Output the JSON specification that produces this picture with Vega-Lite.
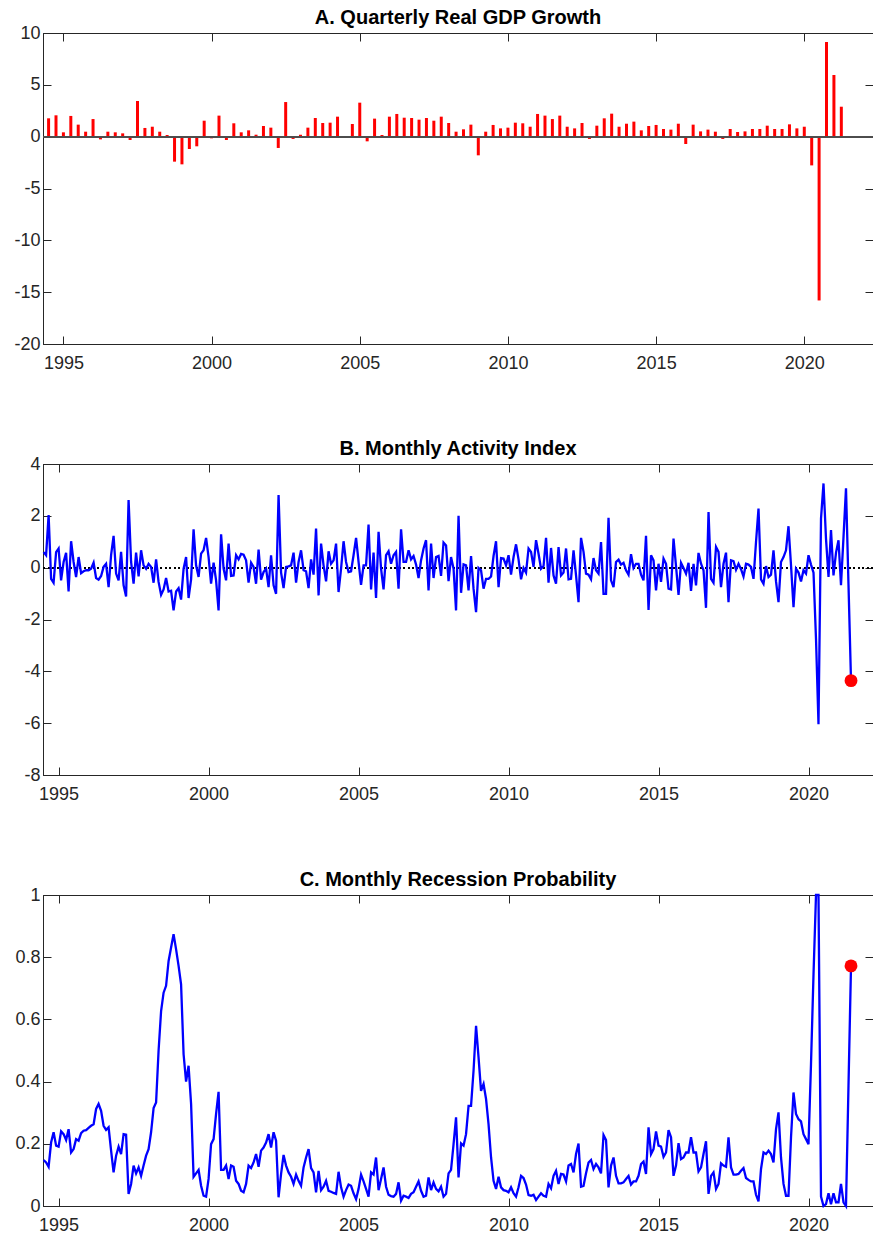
{
"$schema": "https://vega.github.io/schema/vega-lite/v6.json",
"padding": {"left": 5, "top": 7, "right": 1, "bottom": 4},
"spacing": 120,
"bounds": "flush",
"background": "white",
"config": {
  "view": {"stroke": "#262626", "strokeWidth": 1},
  "axis": {"grid": false, "domainColor": "#262626", "domainWidth": 1, "tickColor": "#262626", "tickWidth": 1, "tickSize": -8, "labelFont": "Liberation Sans", "labelFontSize": 18, "labelColor": "#262626", "title": null, "labelOverlap": false, "labelFlush": false},
  "axisX": {"labelPadding": 18},
  "axisY": {"labelPadding": 11, "minExtent": 37, "maxExtent": 37},
  "title": {"font": "Liberation Sans", "fontSize": 20, "fontWeight": "bold", "color": "#000000", "offset": -4, "baseline": "alphabetic", "frame": "group", "anchor": "middle"}
},
"datasets": {
"gdp": [
{"t":1994.5,"v":1.77},{"t":1994.75,"v":2.06},{"t":1995,"v":0.42},{"t":1995.25,"v":2.0},{"t":1995.5,"v":1.16},{"t":1995.75,"v":0.48},{"t":1996,"v":1.7},{"t":1996.25,"v":-0.26},{"t":1996.5,"v":0.48},{"t":1996.75,"v":0.42},{"t":1997,"v":0.32},{"t":1997.25,"v":-0.32},{"t":1997.5,"v":3.44},{"t":1997.75,"v":0.84},{"t":1998,"v":0.96},{"t":1998.25,"v":0.48},{"t":1998.5,"v":0.16},{"t":1998.75,"v":-2.41},{"t":1999,"v":-2.67},{"t":1999.25,"v":-1.19},{"t":1999.5,"v":-0.93},{"t":1999.75,"v":1.54},{"t":2000,"v":-0.16},{"t":2000.25,"v":2.03},{"t":2000.5,"v":-0.32},{"t":2000.75,"v":1.29},{"t":2001,"v":0.42},{"t":2001.25,"v":0.61},{"t":2001.5,"v":0.19},{"t":2001.75,"v":1.03},{"t":2002,"v":0.87},{"t":2002.25,"v":-1.09},{"t":2002.5,"v":3.34},{"t":2002.75,"v":-0.22},{"t":2003,"v":0.19},{"t":2003.25,"v":0.87},{"t":2003.5,"v":1.8},{"t":2003.75,"v":1.32},{"t":2004,"v":1.35},{"t":2004.25,"v":1.93},{"t":2004.5,"v":-0.13},{"t":2004.75,"v":1.22},{"t":2005,"v":3.28},{"t":2005.25,"v":-0.45},{"t":2005.5,"v":1.74},{"t":2005.75,"v":0.16},{"t":2006,"v":1.93},{"t":2006.25,"v":2.19},{"t":2006.5,"v":1.83},{"t":2006.75,"v":1.8},{"t":2007,"v":1.64},{"t":2007.25,"v":1.8},{"t":2007.5,"v":1.54},{"t":2007.75,"v":1.93},{"t":2008,"v":1.32},{"t":2008.25,"v":0.48},{"t":2008.5,"v":0.71},{"t":2008.75,"v":1.16},{"t":2009,"v":-1.8},{"t":2009.25,"v":0.48},{"t":2009.5,"v":1.13},{"t":2009.75,"v":0.8},{"t":2010,"v":0.87},{"t":2010.25,"v":1.35},{"t":2010.5,"v":1.29},{"t":2010.75,"v":0.96},{"t":2011,"v":2.19},{"t":2011.25,"v":2.03},{"t":2011.5,"v":1.7},{"t":2011.75,"v":2.03},{"t":2012,"v":0.96},{"t":2012.25,"v":0.8},{"t":2012.5,"v":1.32},{"t":2012.75,"v":-0.22},{"t":2013,"v":1.06},{"t":2013.25,"v":1.77},{"t":2013.5,"v":2.22},{"t":2013.75,"v":0.96},{"t":2014,"v":1.25},{"t":2014.25,"v":1.45},{"t":2014.5,"v":0.61},{"t":2014.75,"v":1.03},{"t":2015,"v":1.13},{"t":2015.25,"v":0.74},{"t":2015.5,"v":0.68},{"t":2015.75,"v":1.25},{"t":2016,"v":-0.71},{"t":2016.25,"v":1.16},{"t":2016.5,"v":0.51},{"t":2016.75,"v":0.68},{"t":2017,"v":0.48},{"t":2017.25,"v":-0.22},{"t":2017.5,"v":0.74},{"t":2017.75,"v":0.45},{"t":2018,"v":0.51},{"t":2018.25,"v":0.74},{"t":2018.5,"v":0.74},{"t":2018.75,"v":1.06},{"t":2019,"v":0.74},{"t":2019.25,"v":0.74},{"t":2019.5,"v":1.19},{"t":2019.75,"v":0.8},{"t":2020,"v":0.96},{"t":2020.25,"v":-2.77},{"t":2020.5,"v":-15.8},{"t":2020.75,"v":9.13},{"t":2021,"v":5.95},{"t":2021.25,"v":2.89}
],
"monthly": [
{"t":1994.5,"b":0.6,"c":0.148},{"t":1994.583,"b":0.48,"c":0.14},{"t":1994.667,"b":2.03,"c":0.126},{"t":1994.75,"b":-0.43,"c":0.204},{"t":1994.833,"b":-0.58,"c":0.237},{"t":1994.917,"b":0.6,"c":0.194},
{"t":1995,"b":0.74,"c":0.191},{"t":1995.083,"b":-0.49,"c":0.24},{"t":1995.167,"b":0.22,"c":0.231},{"t":1995.25,"b":0.57,"c":0.212},{"t":1995.333,"b":-0.92,"c":0.247},{"t":1995.417,"b":1.02,"c":0.172},{"t":1995.5,"b":0.22,"c":0.183},{"t":1995.583,"b":-0.36,"c":0.215},{"t":1995.667,"b":0.41,"c":0.21},{"t":1995.75,"b":-0.21,"c":0.234},{"t":1995.833,"b":-0.14,"c":0.242},{"t":1995.917,"b":-0.1,"c":0.244},
{"t":1996,"b":-0.1,"c":0.251},{"t":1996.083,"b":-0.04,"c":0.258},{"t":1996.167,"b":0.19,"c":0.263},{"t":1996.25,"b":-0.4,"c":0.312},{"t":1996.333,"b":-0.46,"c":0.328},{"t":1996.417,"b":-0.32,"c":0.306},{"t":1996.5,"b":0.03,"c":0.258},{"t":1996.583,"b":0.15,"c":0.245},{"t":1996.667,"b":-0.75,"c":0.253},{"t":1996.75,"b":0.48,"c":0.178},{"t":1996.833,"b":1.23,"c":0.108},{"t":1996.917,"b":-0.23,"c":0.162},
{"t":1997,"b":-0.49,"c":0.191},{"t":1997.083,"b":0.61,"c":0.167},{"t":1997.167,"b":-0.68,"c":0.231},{"t":1997.25,"b":-1.11,"c":0.229},{"t":1997.333,"b":2.61,"c":0.039},{"t":1997.417,"b":0.22,"c":0.071},{"t":1997.5,"b":-0.62,"c":0.13},{"t":1997.583,"b":0.58,"c":0.105},{"t":1997.667,"b":-0.34,"c":0.124},{"t":1997.75,"b":0.67,"c":0.097},{"t":1997.833,"b":0.09,"c":0.13},{"t":1997.917,"b":-0.04,"c":0.162},
{"t":1998,"b":0.15,"c":0.183},{"t":1998.083,"b":0.03,"c":0.237},{"t":1998.167,"b":-0.58,"c":0.315},{"t":1998.25,"b":0.32,"c":0.333},{"t":1998.333,"b":-0.55,"c":0.499},{"t":1998.417,"b":-1.05,"c":0.627},{"t":1998.5,"b":-0.84,"c":0.686},{"t":1998.583,"b":-0.4,"c":0.708},{"t":1998.667,"b":-0.92,"c":0.788},{"t":1998.75,"b":-0.89,"c":0.831},{"t":1998.833,"b":-1.65,"c":0.874},{"t":1998.917,"b":-0.92,"c":0.825},
{"t":1999,"b":-0.79,"c":0.772},{"t":1999.083,"b":-1.23,"c":0.713},{"t":1999.167,"b":-0.04,"c":0.488},{"t":1999.25,"b":0.41,"c":0.4},{"t":1999.333,"b":-1.17,"c":0.451},{"t":1999.417,"b":-0.45,"c":0.328},{"t":1999.5,"b":1.48,"c":0.094},{"t":1999.583,"b":0.09,"c":0.105},{"t":1999.667,"b":-0.36,"c":0.116},{"t":1999.75,"b":0.54,"c":0.065},{"t":1999.833,"b":0.67,"c":0.033},{"t":1999.917,"b":1.15,"c":0.03},
{"t":2000,"b":0.41,"c":0.087},{"t":2000.083,"b":-0.62,"c":0.199},{"t":2000.167,"b":0.19,"c":0.215},{"t":2000.25,"b":-0.49,"c":0.296},{"t":2000.333,"b":-1.65,"c":0.367},{"t":2000.417,"b":1.29,"c":0.116},{"t":2000.5,"b":-0.04,"c":0.116},{"t":2000.583,"b":-0.49,"c":0.13},{"t":2000.667,"b":0.93,"c":0.087},{"t":2000.75,"b":-0.32,"c":0.13},{"t":2000.833,"b":-0.3,"c":0.126},{"t":2000.917,"b":0.48,"c":0.081},
{"t":2001,"b":0.32,"c":0.071},{"t":2001.083,"b":0.53,"c":0.049},{"t":2001.167,"b":0.5,"c":0.044},{"t":2001.25,"b":0.28,"c":0.071},{"t":2001.333,"b":-0.58,"c":0.13},{"t":2001.417,"b":0.19,"c":0.122},{"t":2001.5,"b":0.03,"c":0.14},{"t":2001.583,"b":-0.62,"c":0.167},{"t":2001.667,"b":0.7,"c":0.126},{"t":2001.75,"b":-0.46,"c":0.178},{"t":2001.833,"b":-0.17,"c":0.188},{"t":2001.917,"b":-0.04,"c":0.204},
{"t":2002,"b":-0.75,"c":0.231},{"t":2002.083,"b":0.48,"c":0.188},{"t":2002.167,"b":-0.68,"c":0.237},{"t":2002.25,"b":-1.01,"c":0.21},{"t":2002.333,"b":2.8,"c":0.028},{"t":2002.417,"b":-0.19,"c":0.103},{"t":2002.5,"b":-0.79,"c":0.164},{"t":2002.583,"b":0.03,"c":0.13},{"t":2002.667,"b":0.05,"c":0.108},{"t":2002.75,"b":0.09,"c":0.094},{"t":2002.833,"b":0.58,"c":0.071},{"t":2002.917,"b":-0.58,"c":0.101},
{"t":2003,"b":0.22,"c":0.081},{"t":2003.083,"b":0.67,"c":0.065},{"t":2003.167,"b":-0.1,"c":0.124},{"t":2003.25,"b":-0.14,"c":0.156},{"t":2003.333,"b":-0.79,"c":0.183},{"t":2003.417,"b":0.32,"c":0.122},{"t":2003.5,"b":-0.27,"c":0.108},{"t":2003.583,"b":1.51,"c":0.044},{"t":2003.667,"b":-1.07,"c":0.113},{"t":2003.75,"b":0.93,"c":0.051},{"t":2003.833,"b":0.09,"c":0.062},{"t":2003.917,"b":-0.53,"c":0.081},
{"t":2004,"b":0.63,"c":0.049},{"t":2004.083,"b":0.15,"c":0.046},{"t":2004.167,"b":0.28,"c":0.042},{"t":2004.25,"b":0.93,"c":0.039},{"t":2004.333,"b":-0.94,"c":0.11},{"t":2004.417,"b":-0.04,"c":0.06},{"t":2004.5,"b":1.02,"c":0.03},{"t":2004.583,"b":0.22,"c":0.051},{"t":2004.667,"b":-0.17,"c":0.069},{"t":2004.75,"b":-0.14,"c":0.065},{"t":2004.833,"b":0.48,"c":0.041},{"t":2004.917,"b":1.15,"c":0.022},
{"t":2005,"b":0.22,"c":0.055},{"t":2005.083,"b":-0.66,"c":0.101},{"t":2005.167,"b":0.09,"c":0.079},{"t":2005.25,"b":0.09,"c":0.055},{"t":2005.333,"b":1.66,"c":0.03},{"t":2005.417,"b":-0.84,"c":0.108},{"t":2005.5,"b":0.58,"c":0.101},{"t":2005.583,"b":-1.17,"c":0.156},{"t":2005.667,"b":1.38,"c":0.051},{"t":2005.75,"b":-0.04,"c":0.087},{"t":2005.833,"b":-0.84,"c":0.124},{"t":2005.917,"b":0.48,"c":0.062},
{"t":2006,"b":0.63,"c":0.036},{"t":2006.083,"b":0.15,"c":0.032},{"t":2006.167,"b":0.48,"c":0.03},{"t":2006.25,"b":0.61,"c":0.039},{"t":2006.333,"b":-0.81,"c":0.076},{"t":2006.417,"b":1.48,"c":0.017},{"t":2006.5,"b":0.22,"c":0.033},{"t":2006.583,"b":0.22,"c":0.03},{"t":2006.667,"b":0.67,"c":0.026},{"t":2006.75,"b":0.32,"c":0.039},{"t":2006.833,"b":0.45,"c":0.044},{"t":2006.917,"b":0.12,"c":0.062},
{"t":2007,"b":-0.4,"c":0.079},{"t":2007.083,"b":0.28,"c":0.049},{"t":2007.167,"b":0.74,"c":0.03},{"t":2007.25,"b":1.06,"c":0.033},{"t":2007.333,"b":-0.88,"c":0.092},{"t":2007.417,"b":0.93,"c":0.051},{"t":2007.5,"b":-0.4,"c":0.076},{"t":2007.583,"b":0.41,"c":0.055},{"t":2007.667,"b":0.45,"c":0.047},{"t":2007.75,"b":-0.32,"c":0.062},{"t":2007.833,"b":0.97,"c":0.03},{"t":2007.917,"b":0.86,"c":0.039},
{"t":2008,"b":-0.52,"c":0.105},{"t":2008.083,"b":0.41,"c":0.116},{"t":2008.167,"b":-0.04,"c":0.199},{"t":2008.25,"b":-1.65,"c":0.285},{"t":2008.333,"b":2.0,"c":0.092},{"t":2008.417,"b":-0.97,"c":0.201},{"t":2008.5,"b":0.13,"c":0.194},{"t":2008.583,"b":0.09,"c":0.231},{"t":2008.667,"b":-0.88,"c":0.322},{"t":2008.75,"b":0.45,"c":0.322},{"t":2008.833,"b":-0.81,"c":0.435},{"t":2008.917,"b":-1.72,"c":0.579},
{"t":2009,"b":-0.01,"c":0.478},{"t":2009.083,"b":-0.1,"c":0.37},{"t":2009.167,"b":-0.81,"c":0.392},{"t":2009.25,"b":-0.43,"c":0.344},{"t":2009.333,"b":-0.43,"c":0.263},{"t":2009.417,"b":-0.34,"c":0.156},{"t":2009.5,"b":0.45,"c":0.081},{"t":2009.583,"b":1.02,"c":0.055},{"t":2009.667,"b":-0.75,"c":0.094},{"t":2009.75,"b":0.37,"c":0.06},{"t":2009.833,"b":0.35,"c":0.051},{"t":2009.917,"b":0.09,"c":0.049},
{"t":2010,"b":0.48,"c":0.044},{"t":2010.083,"b":-0.27,"c":0.06},{"t":2010.167,"b":0.41,"c":0.041},{"t":2010.25,"b":0.9,"c":0.03},{"t":2010.333,"b":0.32,"c":0.06},{"t":2010.417,"b":-0.45,"c":0.097},{"t":2010.5,"b":-0.01,"c":0.09},{"t":2010.583,"b":-0.19,"c":0.069},{"t":2010.667,"b":0.74,"c":0.035},{"t":2010.75,"b":0.61,"c":0.033},{"t":2010.833,"b":0.03,"c":0.036},{"t":2010.917,"b":1.06,"c":0.019},
{"t":2011,"b":0.54,"c":0.03},{"t":2011.083,"b":-0.04,"c":0.041},{"t":2011.167,"b":0.06,"c":0.033},{"t":2011.25,"b":1.15,"c":0.03},{"t":2011.333,"b":-0.58,"c":0.071},{"t":2011.417,"b":0.76,"c":0.057},{"t":2011.5,"b":-0.3,"c":0.097},{"t":2011.583,"b":-0.62,"c":0.113},{"t":2011.667,"b":0.79,"c":0.071},{"t":2011.75,"b":-0.3,"c":0.103},{"t":2011.833,"b":-0.19,"c":0.101},{"t":2011.917,"b":0.74,"c":0.079},
{"t":2012,"b":-0.45,"c":0.13},{"t":2012.083,"b":-0.43,"c":0.135},{"t":2012.167,"b":0.67,"c":0.108},{"t":2012.25,"b":-0.3,"c":0.167},{"t":2012.333,"b":-1.33,"c":0.201},{"t":2012.417,"b":1.15,"c":0.062},{"t":2012.5,"b":0.61,"c":0.065},{"t":2012.583,"b":-0.23,"c":0.105},{"t":2012.667,"b":-0.27,"c":0.14},{"t":2012.75,"b":-0.45,"c":0.148},{"t":2012.833,"b":0.37,"c":0.119},{"t":2012.917,"b":-0.1,"c":0.135},
{"t":2013,"b":-0.23,"c":0.124},{"t":2013.083,"b":0.99,"c":0.105},{"t":2013.167,"b":-1.01,"c":0.228},{"t":2013.25,"b":-1.01,"c":0.212},{"t":2013.333,"b":1.92,"c":0.06},{"t":2013.417,"b":-0.49,"c":0.13},{"t":2013.5,"b":-0.75,"c":0.156},{"t":2013.583,"b":0.22,"c":0.097},{"t":2013.667,"b":0.31,"c":0.073},{"t":2013.75,"b":0.12,"c":0.073},{"t":2013.833,"b":0.19,"c":0.076},{"t":2013.917,"b":-0.1,"c":0.087},
{"t":2014,"b":-0.27,"c":0.097},{"t":2014.083,"b":0.52,"c":0.069},{"t":2014.167,"b":-0.01,"c":0.079},{"t":2014.25,"b":0.15,"c":0.079},{"t":2014.333,"b":0.15,"c":0.097},{"t":2014.417,"b":-0.27,"c":0.135},{"t":2014.5,"b":-0.49,"c":0.143},{"t":2014.583,"b":1.23,"c":0.103},{"t":2014.667,"b":-1.63,"c":0.253},{"t":2014.75,"b":0.48,"c":0.167},{"t":2014.833,"b":0.28,"c":0.183},{"t":2014.917,"b":-0.88,"c":0.24},
{"t":2015,"b":0.15,"c":0.194},{"t":2015.083,"b":-0.55,"c":0.191},{"t":2015.167,"b":0.35,"c":0.158},{"t":2015.25,"b":0.15,"c":0.172},{"t":2015.333,"b":-0.81,"c":0.244},{"t":2015.417,"b":-0.84,"c":0.221},{"t":2015.5,"b":1.12,"c":0.097},{"t":2015.583,"b":0.06,"c":0.13},{"t":2015.667,"b":-1.05,"c":0.202},{"t":2015.75,"b":0.19,"c":0.151},{"t":2015.833,"b":-0.01,"c":0.156},{"t":2015.917,"b":-0.23,"c":0.172},
{"t":2016,"b":0.19,"c":0.172},{"t":2016.083,"b":-0.9,"c":0.221},{"t":2016.167,"b":0.15,"c":0.172},{"t":2016.25,"b":-0.68,"c":0.172},{"t":2016.333,"b":0.57,"c":0.111},{"t":2016.417,"b":0.15,"c":0.124},{"t":2016.5,"b":-0.1,"c":0.167},{"t":2016.583,"b":-1.55,"c":0.208},{"t":2016.667,"b":2.15,"c":0.039},{"t":2016.75,"b":-0.43,"c":0.097},{"t":2016.833,"b":-0.58,"c":0.108},{"t":2016.917,"b":0.8,"c":0.055},
{"t":2017,"b":0.61,"c":0.071},{"t":2017.083,"b":-0.75,"c":0.137},{"t":2017.167,"b":0.15,"c":0.13},{"t":2017.25,"b":0.58,"c":0.126},{"t":2017.333,"b":-1.33,"c":0.221},{"t":2017.417,"b":0.28,"c":0.124},{"t":2017.5,"b":0.25,"c":0.101},{"t":2017.583,"b":-0.08,"c":0.101},{"t":2017.667,"b":0.15,"c":0.103},{"t":2017.75,"b":-0.06,"c":0.113},{"t":2017.833,"b":-0.34,"c":0.122},{"t":2017.917,"b":0.15,"c":0.09},
{"t":2018,"b":0.12,"c":0.084},{"t":2018.083,"b":0.03,"c":0.079},{"t":2018.167,"b":-0.43,"c":0.079},{"t":2018.25,"b":0.99,"c":0.036},{"t":2018.333,"b":2.28,"c":0.015},{"t":2018.417,"b":-0.45,"c":0.119},{"t":2018.5,"b":-0.62,"c":0.172},{"t":2018.583,"b":0.06,"c":0.167},{"t":2018.667,"b":-0.36,"c":0.178},{"t":2018.75,"b":-0.27,"c":0.167},{"t":2018.833,"b":0.67,"c":0.14},{"t":2018.917,"b":-0.53,"c":0.247},
{"t":2019,"b":-1.33,"c":0.301},{"t":2019.083,"b":0.22,"c":0.156},{"t":2019.167,"b":0.41,"c":0.071},{"t":2019.25,"b":0.67,"c":0.033},{"t":2019.333,"b":1.6,"c":0.033},{"t":2019.417,"b":0.09,"c":0.221},{"t":2019.5,"b":-1.52,"c":0.365},{"t":2019.583,"b":-0.04,"c":0.296},{"t":2019.667,"b":-0.19,"c":0.279},{"t":2019.75,"b":-0.53,"c":0.272},{"t":2019.833,"b":-0.1,"c":0.231},{"t":2019.917,"b":-0.23,"c":0.215},
{"t":2020,"b":0.48,"c":0.199},{"t":2020.083,"b":0.12,"c":0.456},{"t":2020.167,"b":-0.19,"c":0.745},{"t":2020.25,"b":-2.75,"c":1.0},{"t":2020.333,"b":-6.04,"c":1.0},{"t":2020.417,"b":1.9,"c":0.03},{"t":2020.5,"b":3.25,"c":0.0},{"t":2020.583,"b":1.12,"c":0.006},{"t":2020.667,"b":-0.36,"c":0.041},{"t":2020.75,"b":1.45,"c":0.006},{"t":2020.833,"b":-0.3,"c":0.041},{"t":2020.917,"b":0.58,"c":0.012},
{"t":2021,"b":1.06,"c":0.012},{"t":2021.083,"b":-0.68,"c":0.071},{"t":2021.167,"b":1.19,"c":0.012},{"t":2021.25,"b":3.06,"c":0.0},{"t":2021.333,"b":-0.65,"c":0.387},{"t":2021.417,"b":-4.36,"c":0.772}
]
},
"vconcat": [
{
  "width": 830, "height": 311,
  "title": {"text": "A. Quarterly Real GDP Growth"},
  "data": {"name": "gdp"},
  "layer": [
    {"mark": {"type": "bar", "color": "#ff0000", "size": 3},
     "encoding": {
       "x": {"field": "t", "type": "quantitative", "scale": {"domain": [1994.48, 2022.15], "nice": false, "zero": false}, "axis": {"values": [1995, 2000, 2005, 2010, 2015, 2020], "format": "d"}},
       "y": {"field": "v", "type": "quantitative", "scale": {"domain": [-20, 10], "nice": false}, "axis": {"values": [-20, -15, -10, -5, 0, 5, 10], "labelExpr": "datum.value < 0 ? '-' + format(-datum.value, '~g') : format(datum.value, '~g')"}}
     }},
    {"mark": {"type": "rule", "color": "#4d4d4d", "strokeWidth": 1.5},
     "encoding": {"y": {"datum": 0, "type": "quantitative", "axis": null}}},
    {"mark": {"type": "point", "opacity": 0},
     "encoding": {
       "x": {"field": "t", "type": "quantitative", "scale": {"domain": [1994.48, 2022.15], "nice": false, "zero": false}, "axis": {"orient": "top", "labels": false, "values": [1995, 2000, 2005, 2010, 2015, 2020], "minExtent": 0, "maxExtent": 0}},
       "y": {"field": "v", "type": "quantitative", "scale": {"domain": [-20, 10], "nice": false}, "axis": {"orient": "right", "labels": false, "values": [-20, -15, -10, -5, 0, 5, 10], "minExtent": 0, "maxExtent": 0}}
     }}
  ],
  "resolve": {"axis": {"x": "independent", "y": "independent"}}
},
{
  "width": 830, "height": 311,
  "title": {"text": "B. Monthly Activity Index"},
  "data": {"name": "monthly"},
  "layer": [
    {"mark": {"type": "rule", "color": "#000000", "strokeWidth": 1, "strokeDash": [1.5, 3]},
     "encoding": {"y": {"datum": 0, "type": "quantitative", "axis": null}}},
    {"mark": {"type": "line", "color": "#0000ff", "strokeWidth": 2.3},
     "encoding": {
       "x": {"field": "t", "type": "quantitative", "scale": {"domain": [1994.48, 2022.15], "nice": false, "zero": false}, "axis": {"values": [1995, 2000, 2005, 2010, 2015, 2020], "format": "d"}},
       "y": {"field": "b", "type": "quantitative", "scale": {"domain": [-8, 4], "nice": false}, "axis": {"values": [-8, -6, -4, -2, 0, 2, 4], "labelExpr": "datum.value < 0 ? '-' + format(-datum.value, '~g') : format(datum.value, '~g')"}}
     }},
    {"data": {"values": [{"t": 2021.417, "b": -4.36}]},
     "mark": {"type": "point", "filled": true, "color": "#ff0000", "size": 165, "opacity": 1},
     "encoding": {
       "x": {"field": "t", "type": "quantitative", "scale": {"domain": [1994.48, 2022.15], "nice": false, "zero": false}, "axis": {"orient": "top", "labels": false, "values": [1995, 2000, 2005, 2010, 2015, 2020], "minExtent": 0, "maxExtent": 0}},
       "y": {"field": "b", "type": "quantitative", "scale": {"domain": [-8, 4], "nice": false}, "axis": {"orient": "right", "labels": false, "values": [-8, -6, -4, -2, 0, 2, 4], "minExtent": 0, "maxExtent": 0}}
     }}
  ],
  "resolve": {"axis": {"x": "independent", "y": "independent"}}
},
{
  "width": 830, "height": 311,
  "title": {"text": "C. Monthly Recession Probability"},
  "data": {"name": "monthly"},
  "layer": [
    {"mark": {"type": "line", "color": "#0000ff", "strokeWidth": 2.3},
     "encoding": {
       "x": {"field": "t", "type": "quantitative", "scale": {"domain": [1994.48, 2022.15], "nice": false, "zero": false}, "axis": {"values": [1995, 2000, 2005, 2010, 2015, 2020], "format": "d"}},
       "y": {"field": "c", "type": "quantitative", "scale": {"domain": [0, 1], "nice": false}, "axis": {"values": [0, 0.2, 0.4, 0.6, 0.8, 1], "labelExpr": "format(datum.value, '~g')"}}
     }},
    {"data": {"values": [{"t": 2021.417, "c": 0.772}]},
     "mark": {"type": "point", "filled": true, "color": "#ff0000", "size": 165, "opacity": 1},
     "encoding": {
       "x": {"field": "t", "type": "quantitative", "scale": {"domain": [1994.48, 2022.15], "nice": false, "zero": false}, "axis": {"orient": "top", "labels": false, "values": [1995, 2000, 2005, 2010, 2015, 2020], "minExtent": 0, "maxExtent": 0}},
       "y": {"field": "c", "type": "quantitative", "scale": {"domain": [0, 1], "nice": false}, "axis": {"orient": "right", "labels": false, "values": [0, 0.2, 0.4, 0.6, 0.8, 1], "minExtent": 0, "maxExtent": 0}}
     }}
  ],
  "resolve": {"axis": {"x": "independent", "y": "independent"}}
}
]
}
